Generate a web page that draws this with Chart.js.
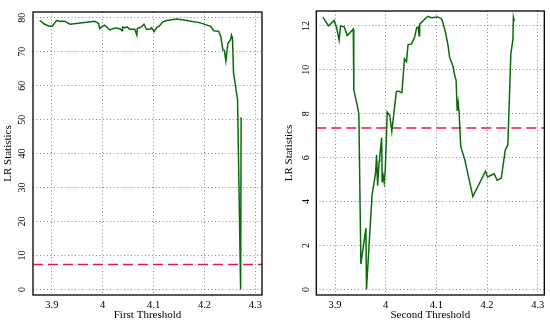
<!DOCTYPE html>
<html>
<head>
<meta charset="utf-8">
<script src="https://cdn.jsdelivr.net/npm/chart.js@4.4.1/dist/chart.umd.min.js"></script>
<style>
	body { margin: 0; background: #fff; }
	.panel { position: absolute; top: 0; width: 275px; height: 323px; }
</style>
</head>
<body>
<div class="panel" style="left:0"><canvas id="firstLR"></canvas></div>
<div class="panel" style="left:275px"><canvas id="secondLR"></canvas></div>
<script>
// First threshold search
const firstX = [3.876, 3.886, 3.895, 3.901, 3.909, 3.915, 3.925, 3.936, 3.984, 3.992, 3.994, 3.998, 4.004, 4.014,
	4.024, 4.034, 4.038, 4.039, 4.043, 4.048, 4.053, 4.063, 4.067, 4.068, 4.076, 4.081, 4.086, 4.093, 4.096, 4.101,
	4.106, 4.111, 4.118, 4.126, 4.145, 4.165, 4.192, 4.212, 4.218, 4.228, 4.232, 4.236, 4.239, 4.242, 4.246, 4.251,
	4.253, 4.255, 4.257, 4.265, 4.271, 4.272];
const firstLR = [79.2, 78.1, 77.5, 77.5, 79.2, 79.0, 79.0, 78.1, 79.0, 78.3, 76.8, 77.3, 77.8, 76.4,
	77.0, 76.8, 76.2, 77.3, 77.1, 77.3, 76.6, 76.6, 74.9, 76.8, 77.3, 78.1, 76.6, 76.6, 77.1, 75.9,
	77.1, 77.5, 78.8, 79.2, 79.6, 79.2, 78.5, 77.5, 76.2, 76.0, 74.5, 70.6, 70.4, 67.3, 72.5, 73.5,
	74.9, 74.0, 63.9, 55.8, 0.0, 50.7];

// Second threshold search
const secondX = [3.876, 3.887, 3.898, 3.903, 3.908, 3.911, 3.918, 3.924, 3.936, 3.937, 3.944, 3.947, 3.951, 3.961,
	3.962, 3.973, 3.980, 3.982, 3.984, 3.987, 3.988, 3.992, 3.993, 3.995, 3.997, 3.999, 4.003, 4.008, 4.012,
	4.021, 4.024, 4.032, 4.037, 4.041, 4.044, 4.051, 4.057, 4.061, 4.064, 4.066, 4.067, 4.080, 4.083, 4.090,
	4.103, 4.110, 4.113, 4.118, 4.123, 4.126, 4.133, 4.136, 4.139, 4.141, 4.143, 4.145, 4.148, 4.156, 4.172,
	4.197, 4.201, 4.214, 4.220, 4.228, 4.236, 4.241, 4.247, 4.251, 4.252, 4.254];
const secondLR = [12.40, 12.00, 12.25, 11.93, 11.36, 12.00, 11.96, 11.56, 11.85, 9.10, 8.36, 7.99, 1.16, 2.79,
	0.0, 4.28, 5.30, 6.13, 4.72, 5.84, 5.98, 6.91, 4.87, 5.17, 4.87, 5.39, 8.07, 7.92, 7.20,
	9.00, 9.03, 8.96, 10.50, 10.37, 11.14, 11.18, 11.48, 11.92, 11.95, 11.55, 12.08, 12.37, 12.44, 12.37,
	12.41, 12.33, 12.15, 11.70, 11.11, 10.59, 10.14, 9.77, 9.51, 8.14, 8.51, 8.00, 6.51, 5.91, 4.23,
	5.39, 5.12, 5.27, 4.97, 5.06, 6.35, 6.58, 10.74, 11.36, 12.40, 12.22];

// Critical value (dashed line)
const critValue = 7.35;

// Tick labels
const xTicks = [3.9, 4, 4.1, 4.2, 4.3];
const firstYTicks = [0, 10, 20, 30, 40, 50, 60, 70, 80];
const secondYTicks = [0, 2, 4, 6, 8, 10, 12];

const serif = 'Liberation Serif';
const xMin = 3.863, xMax = 4.313;

// draws the black box round the plot region
const boxPlugin = {
	id: 'box',
	afterDraw( chart ) {
		const a = chart.chartArea, ctx = chart.ctx;
		ctx.save();
		ctx.strokeStyle = '#000';
		ctx.lineWidth = 1.3;
		ctx.strokeRect( a.left, a.top, a.right - a.left, a.bottom - a.top );
		ctx.restore();
	}
};

function makePanel( id, xs, ys, yTicks, yMin, yMax, xTitle, opts ) {
	const points = xs.map( ( x, i ) => ( { x: x, y: ys[ i ] } ) );
	const crit = [ { x: xMin, y: critValue }, { x: xMax, y: critValue } ];

	new Chart( document.getElementById( id ), {
		type: 'scatter',
		data: {
			datasets: [
				{
					label: 'LR',
					data: points,
					showLine: true,
					borderColor: '#0b6b0b',
					borderWidth: 1.5,
					pointRadius: 0
				},
				{
					label: 'Critical value',
					data: crit,
					showLine: true,
					borderColor: '#e3194d',
					borderWidth: 1.4,
					borderDash: [ 10, 5 ],
					pointRadius: 0
				}
			]
		},
		options: {
			responsive: true,
			maintainAspectRatio: false,
			animation: false,
			events: [],
			layout: { padding: { top: 5, right: opts.padRight, bottom: 0, left: 0 } },
			plugins: { legend: { display: false }, tooltip: { enabled: false } },
			scales: {
				x: {
					type: 'linear',
					min: xMin,
					max: xMax,
					afterBuildTicks: ( s ) => { s.ticks = xTicks.map( v => ( { value: v } ) ); },
					afterFit: ( s ) => { s.height = 28; },
					grid: { color: '#8a8a8a', drawTicks: false },
					border: { display: false, dash: [ 1, 2.5 ] },
					ticks: {
						color: '#000',
						padding: 4,
						maxRotation: 0,
						font: { family: serif, size: 10.5 },
						callback: ( v ) => String( v )
					},
					title: {
						display: true,
						text: xTitle,
						color: '#000',
						padding: { top: 0, bottom: 1 },
						font: { family: serif, size: 11 }
					}
				},
				y: {
					type: 'linear',
					min: yMin,
					max: yMax,
					afterBuildTicks: ( s ) => { s.ticks = yTicks.map( v => ( { value: v } ) ); },
					afterFit: ( s ) => { s.width = opts.yWidth; },
					grid: { color: '#8a8a8a', drawTicks: false },
					border: { display: false, dash: [ 1, 2.5 ] },
					ticks: {
						color: '#000',
						padding: opts.yTickPad,
						minRotation: 90,
						maxRotation: 90,
						crossAlign: 'center',
						font: { family: serif, size: 10 },
						callback: ( v ) => String( v )
					},
					title: {
						display: true,
						text: 'LR Statistics',
						color: '#000',
						padding: { top: opts.yTitlePad, bottom: 0 },
						font: { family: serif, size: 11 }
					}
				}
			}
		},
		plugins: [ boxPlugin ]
	} );
}

makePanel( 'firstLR', firstX, firstLR, firstYTicks, -1.64, 81.7, 'First Threshold',
	{ padRight: 13, yWidth: 33, yTickPad: 6, yTitlePad: 2 } );
makePanel( 'secondLR', secondX, secondLR, secondYTicks, -0.254, 12.68, 'Second Threshold',
	{ padRight: 5.7, yWidth: 41.3, yTickPad: 5, yTitlePad: 8 } );
</script>
</body>
</html>
